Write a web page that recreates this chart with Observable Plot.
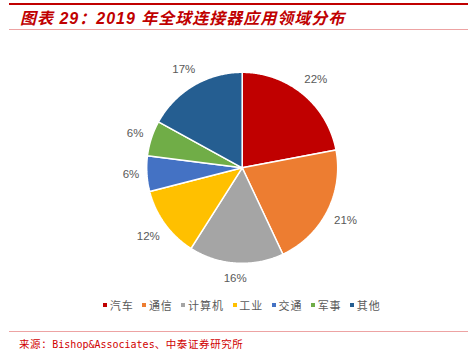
<!DOCTYPE html>
<html><head><meta charset="utf-8">
<script src="https://cdn.jsdelivr.net/npm/d3@7"></script>
<script src="https://cdn.jsdelivr.net/npm/@observablehq/plot@0.6"></script>
<style>
html,body{margin:0;padding:0;background:#fff;}
#page{position:relative;width:472px;height:351px;overflow:hidden;background:#fff;}
.topline{position:absolute;left:9px;width:459px;top:3px;height:2px;background:#C00000;}
.title{position:absolute;left:20px;top:10px;font-style:italic;font-weight:bold;font-size:16px;font-family:"Liberation Sans","Noto Sans CJK SC",sans-serif;color:#C00000;letter-spacing:1px;white-space:nowrap;line-height:18px;}
.subline{position:absolute;left:9px;width:459px;top:29px;height:1px;background:#EDA3A3;}
#chart{position:absolute;left:0;top:36px;}
#legend{position:absolute;left:103px;top:298px;height:14px;line-height:14px;font-size:11px;font-family:"Noto Sans CJK SC",sans-serif;color:#595959;white-space:nowrap;display:flex;align-items:center;}
.item{display:flex;align-items:center;margin-right:8.5px;}
.sw{display:inline-block;width:4px;height:4px;margin-right:2.7px;}
.lab{letter-spacing:1px;}
.botline{position:absolute;left:9px;width:459px;top:331px;height:1px;background:#EDA3A3;}
.source{position:absolute;left:19px;top:338px;font-size:10.5px;line-height:11px;color:#D00000;font-family:"Noto Sans CJK SC",sans-serif;white-space:nowrap;letter-spacing:0.6px;}
.source .mono{font-family:"DejaVu Sans Mono",monospace;font-size:10px;letter-spacing:0;}
</style></head>
<body>
<div id="page">
  <div class="topline"></div>
  <div class="title">图表 29：2019 年全球连接器应用领域分布</div>
  <div class="subline"></div>
  <div id="chart"></div>
  <div id="legend"></div>
  <div class="botline"></div>
  <div class="source">来源：<span class="mono">Bishop&amp;Associates</span>、中泰证券研究所</div>
</div>
<script>
const categories = ["汽车", "通信", "计算机", "工业", "交通", "军事", "其他"];
const shares = [22, 21, 16, 12, 6, 6, 17];
const labels = ["22%", "21%", "16%", "12%", "6%", "6%", "17%"];
const palette = ["#C00000", "#ED7D31", "#A5A5A5", "#FFC000", "#4472C4", "#70AD47", "#255E91"];

const W = 472, H = 252;
const cx = 241.7, cy = 131.3, R = 95.5;

const data = categories.map((c, i) => ({cat: c, share: shares[i], label: labels[i]}));
const arcs = d3.pie().sort(null).value(d => d.share)(data);

const pts = [];
const labelPts = [];
for (const a of arcs) {
  const cat = a.data.cat;
  const n = Math.max(4, Math.ceil((a.endAngle - a.startAngle) / 0.01));
  pts.push({cat, x: cx, y: cy});
  for (let i = 0; i <= n; i++) {
    const t = a.startAngle + (a.endAngle - a.startAngle) * i / n;
    pts.push({cat, x: cx + R * Math.sin(t), y: cy - R * Math.cos(t)});
  }
  pts.push({cat, x: cx, y: cy});
  const m = (a.startAngle + a.endAngle) / 2;
  const halfW = a.data.label.length * 3.3;
  const r = R + 9 + Math.abs(Math.sin(m)) * halfW + Math.abs(Math.cos(m)) * 6;
  labelPts.push({x: cx + r * Math.sin(m), y: cy - r * Math.cos(m), text: a.data.label});
}

const plot = Plot.plot({
  width: W, height: H,
  marginTop: 0, marginRight: 0, marginBottom: 0, marginLeft: 0,
  x: {domain: [0, W], axis: null},
  y: {domain: [H, 0], axis: null},
  color: {domain: categories, range: palette},
  style: {background: "transparent"},
  marks: [
    Plot.line(pts, {x: "x", y: "y", z: "cat", fill: "cat", stroke: "white", strokeWidth: 1.5, strokeLinejoin: "miter"}),
    Plot.text(labelPts, {x: "x", y: "y", text: "text", fill: "#595959", fontSize: 11.5, fontFamily: "Liberation Sans, Arial, sans-serif", textAnchor: "middle", lineAnchor: "middle"})
  ]
});
document.getElementById("chart").appendChild(plot);

const legend = document.getElementById("legend");
categories.forEach((c, i) => {
  const item = document.createElement("span");
  item.className = "item";
  const sw = document.createElement("span");
  sw.className = "sw";
  sw.style.background = palette[i];
  const lab = document.createElement("span");
  lab.className = "lab";
  lab.textContent = c;
  item.appendChild(sw);
  item.appendChild(lab);
  legend.appendChild(item);
});
</script>
</body></html>
